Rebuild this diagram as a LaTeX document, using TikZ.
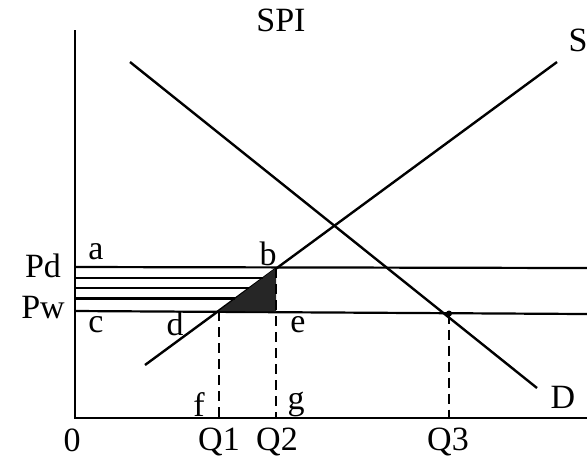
\documentclass[tikz,border=0pt]{standalone}
\usepackage{fontspec}
\setmainfont{Liberation Serif}
\begin{document}
\begin{tikzpicture}[x=0.5pt,y=-0.5pt,
  lbl/.style={inner sep=0pt,font=\fontsize{17}{19}\selectfont},
  ax/.style={line width=1.4pt},
  curve/.style={line width=1.2pt},
  hline/.style={line width=1.1pt},
  dsh/.style={line width=1.3pt,dash pattern=on 5pt off 3pt}]
\useasboundingbox (0,0) rectangle (587,463);
% axes
\coordinate (O) at (75,418);
\coordinate (Ytop) at (75,30);
\coordinate (Xend) at (587,418);
\draw[ax] (Ytop) -- (O) -- (Xend);
% supply and demand
\coordinate (S0) at (145,365);
\coordinate (S1) at (557,62);
\coordinate (D0) at (130,62);
\coordinate (D1) at (537,388);
\draw[curve] (S0) -- (S1);
\draw[curve] (D0) -- (D1);
% price lines
\coordinate (Pdl) at (75,267);
\coordinate (Pdr) at (587,268);
\coordinate (Pwl) at (75,311);
\coordinate (Pwr) at (587,314);
\draw[hline] (Pdl) -- (Pdr);
\draw[hline] (Pwl) -- (Pwr);
% key points
\coordinate (d) at (219,311);
\coordinate (b) at (276,268);
\coordinate (e) at (276,311.5);
\coordinate (Q3p) at (449,313.5);
% shaded triangle
\fill[black!85] (d) -- (b) -- (e) -- cycle;
% intermediate lines ending on S
\foreach \i/\yy/\xx in {1/278/262.5,2/288/249,3/298.5/235} {
  \coordinate (L\i) at (75,\yy);
  \coordinate (R\i) at (\xx,\yy);
  \draw[hline] (L\i) -- (R\i);
}
% dashed drop lines
\coordinate (Q1b) at (219,418);
\coordinate (Q2b) at (276,418);
\coordinate (Q3b) at (449,418);
\draw[dsh] (d) -- (Q1b);
\draw[dsh] (b) -- (Q2b);
\draw[dsh] (Q3p) -- (Q3b);
\fill (Q3p) circle (3);
% labels
\node[lbl] (tSPI) at (281,20) {SPI};
\node[lbl] (tS) at (578,40) {S};
\node[lbl] (tD) at (563,397) {D};
\node[lbl] (tPd) at (43,266) {Pd};
\node[lbl] (tPw) at (43,308) {Pw};
\node[lbl] (ta) at (96,252) {a};
\node[lbl] (tb) at (268,254) {b};
\node[lbl] (tc) at (96,325) {c};
\node[lbl] (td) at (175,324) {d};
\node[lbl] (te) at (298,325) {e};
\node[lbl] (tf) at (199,405) {f};
\node[lbl] (tg) at (296,404) {g};
\node[lbl] (t0) at (72,440) {0};
\node[lbl] (tQ1) at (219,442) {Q1};
\node[lbl] (tQ2) at (277,442) {Q2};
\node[lbl] (tQ3) at (448,442) {Q3};
\end{tikzpicture}
\end{document}
